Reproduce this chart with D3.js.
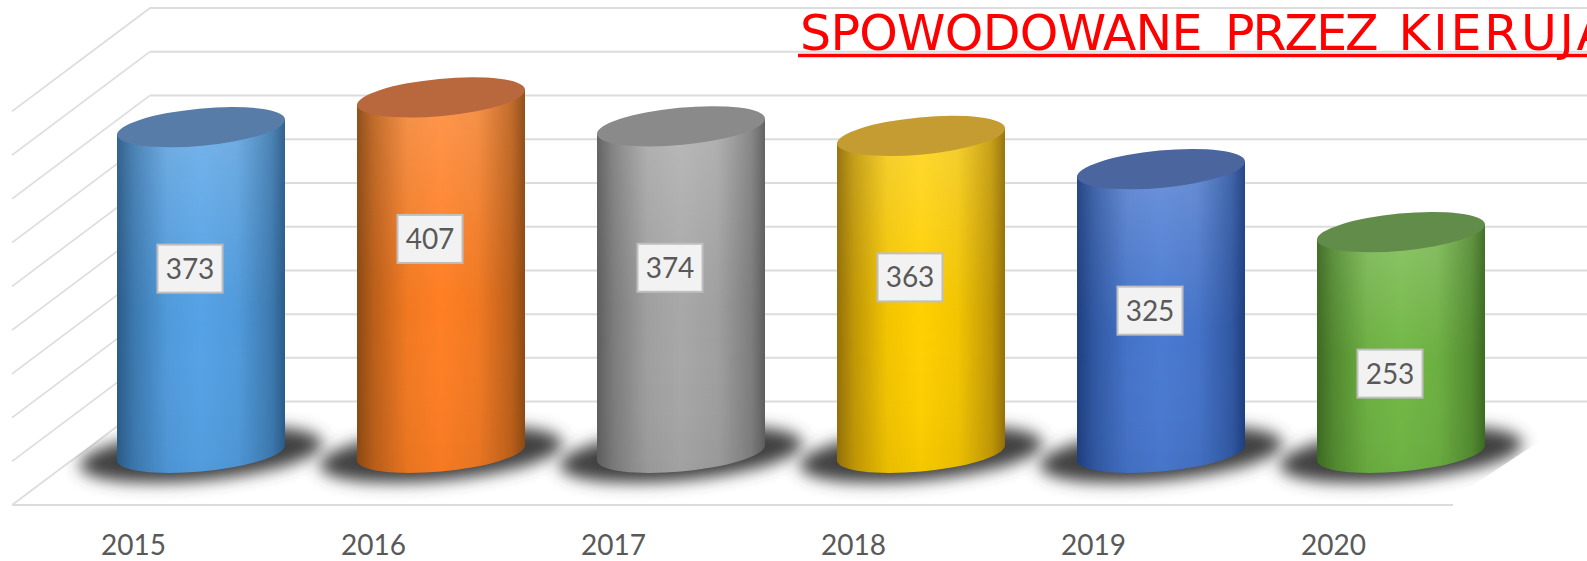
<!DOCTYPE html>
<html>
<meta charset="utf-8">
<script src="https://cdn.jsdelivr.net/npm/d3@7"></script>
<style type="text/css">
html, body {
  margin: 0;
  padding: 0;
  overflow: hidden;
  background: #fff;
}

.grid line {
  stroke: #dcdcdc;
  fill: none;
}

.axis text {
  font-family: Lato, sans-serif;
  font-size: 28px;
  fill: #595959;
}

.axis path,
.axis line {
  display: none;
}

.label text {
  font-family: Lato, sans-serif;
  font-size: 28px;
  fill: #595959;
  text-anchor: middle;
}

.title {
  font-family: 'DejaVu Sans', sans-serif;
  font-size: 49px;
  fill: #ff0000;
}
</style>
<body>
<script>

var categories = ["2015","2016","2017","2018","2019","2020"];
var values = [373,407,374,363,325,253];
var axisMax = 450;
var axisStep = 50;
var titleWords = ["SPOWODOWANE","PRZEZ","KIERUJĄCYCH"];

// colours for each cylinder: edge, middle, lid
var edgeColors = ["#2c5c88","#8c4a14","#5e5e5e","#94700a","#1f3f80","#3d6a22"];
var midColors = ["#55a2e6","#ff7f24","#a8a8a8","#ffd000","#4a7ad2","#72b845"];
var lidColors = ["#577ca8","#b8683c","#8a8a8a","#c49c32","#4b659e","#628c4a"];

var width = 1587, height = 561;

// depth of the 3d box
var depthX = 138, depthY = 103.4;
var wallLeft = 150, floorRight = 1453;
var wallBottom = 401.6, wallTop = 8;
// bars stand in the middle of the floor so they sit lower than the back wall
var barBase = 453.4;

// cylinder ellipse
var rx = 84.4, ry = 18.6, tilt = -5.4;
var sideX = 84, sideY = 7.6;

var xScale = d3.scalePoint().domain(categories).range([201, 1401]);
var yWall = d3.scaleLinear().domain([0, axisMax]).range([wallBottom, wallTop]);
var yBar = d3.scaleLinear().domain([0, axisMax]).range([barBase, barBase - (wallBottom - wallTop)]);

var svg = d3.select("body").append("svg")
    .attr("width", width)
    .attr("height", height)
    .style("display", "block");

var defs = svg.append("defs");

defs.append("filter").attr("id", "blur")
    .attr("x", "-20%").attr("y", "-60%").attr("width", "140%").attr("height", "220%")
    .append("feGaussianBlur").attr("stdDeviation", 8);

defs.append("clipPath").attr("id", "floorClip")
    .append("path")
    .attr("d", "M12,505 L150,401.6 L1600,401.6 L1443,505 Z");

categories.forEach(function(c, i) {
    var g = defs.append("linearGradient").attr("id", "side" + i)
        .attr("x1", 0).attr("x2", 1).attr("y1", 0).attr("y2", 0);
    var shade = d3.interpolateRgb(edgeColors[i], midColors[i]);
    [[0, 0], [0.1, 0.4], [0.3, 0.88], [0.5, 1], [0.72, 0.88], [0.92, 0.42], [1, 0]].forEach(function(s) {
        g.append("stop").attr("offset", s[0]).attr("stop-color", shade(s[1]));
    });
});

// lighter towards the top of the cylinder, mostly in the middle
var sheen = defs.append("linearGradient").attr("id", "sheen")
    .attr("x1", 0).attr("x2", 0).attr("y1", 0).attr("y2", 1);
sheen.append("stop").attr("offset", 0).attr("stop-color", "#fff").attr("stop-opacity", 0.2);
sheen.append("stop").attr("offset", 0.55).attr("stop-color", "#fff").attr("stop-opacity", 0);
sheen.append("stop").attr("offset", 1).attr("stop-color", "#000").attr("stop-opacity", 0.04);

var sheenEdge = defs.append("linearGradient").attr("id", "sheenEdge")
    .attr("x1", 0).attr("x2", 1).attr("y1", 0).attr("y2", 0);
[[0, "#333"], [0.3, "#fff"], [0.7, "#fff"], [1, "#333"]].forEach(function(s) {
    sheenEdge.append("stop").attr("offset", s[0]).attr("stop-color", s[1]);
});

defs.append("mask").attr("id", "sheenMask")
    .attr("maskContentUnits", "objectBoundingBox")
    .append("rect")
    .attr("width", 1).attr("height", 1)
    .style("fill", "url(#sheenEdge)");

// back wall lines
var ticks = d3.range(0, axisMax + axisStep, axisStep);
var grid = svg.append("g").attr("class", "grid");

grid.selectAll(".back").data(ticks).enter().append("line").attr("class", "back")
    .attr("x1", wallLeft)
    .attr("x2", width)
    .attr("y1", function(d) { return yWall(d); })
    .attr("y2", function(d) { return yWall(d); })
    .style("stroke-width", 2);

grid.selectAll(".side").data(ticks).enter().append("line").attr("class", "side")
    .attr("x1", wallLeft - depthX)
    .attr("x2", wallLeft)
    .attr("y1", function(d) { return yWall(d) + depthY; })
    .attr("y2", function(d) { return yWall(d); })
    .style("stroke-width", 1.6);

grid.append("line")
    .attr("x1", wallLeft - depthX)
    .attr("x2", floorRight)
    .attr("y1", yWall(0) + depthY)
    .attr("y2", yWall(0) + depthY)
    .style("stroke-width", 2);

// shadows on the floor
var shadows = svg.append("g").attr("clip-path", "url(#floorClip)");
shadows.selectAll("ellipse").data(categories).enter().append("ellipse")
    .attr("rx", 122).attr("ry", 26)
    .attr("transform", function(d) {
        return "translate(" + xScale(d) + "," + (barBase + 1) + ") rotate(" + tilt + ")";
    })
    .style("fill", "#404040")
    .attr("filter", "url(#blur)");

// title runs off the right side like the original
// each word is placed on its own since DejaVu is not the same width as the original font
var wordX = [800, 1225, 1398.5];
var wordSpacing = [-0.7, -2, 2.7];
var title = svg.append("text").attr("class", "title").attr("y", 50);
title.selectAll("tspan").data(titleWords).enter().append("tspan")
    .attr("x", function(d, i) { return wordX[i]; })
    .style("letter-spacing", function(d, i) { return wordSpacing[i] + "px"; })
    .text(function(d) { return d; });

svg.append("line")
    .attr("x1", 798).attr("x2", width)
    .attr("y1", 55.5).attr("y2", 55.5)
    .style("stroke", "#ff0000")
    .style("stroke-width", 3.5);

function bodyPath(d) {
    var cx = xScale(d.category), top = yBar(d.value);
    return "M" + (cx - sideX) + "," + (top + sideY)
        + " L" + (cx - sideX) + "," + (barBase + sideY)
        + " A" + rx + "," + ry + " " + tilt + " 0 0 " + (cx + sideX) + "," + (barBase - sideY)
        + " L" + (cx + sideX) + "," + (top - sideY)
        + " Z";
}

var rows = categories.map(function(c, i) { return {category: c, value: values[i], index: i}; });

var bars = svg.selectAll(".bar").data(rows).enter().append("g").attr("class", "bar");

bars.append("path")
    .attr("d", bodyPath)
    .style("fill", function(d) { return "url(#side" + d.index + ")"; });

bars.append("path")
    .attr("d", bodyPath)
    .style("fill", "url(#sheen)")
    .attr("mask", "url(#sheenMask)");

bars.append("ellipse")
    .attr("rx", rx)
    .attr("ry", ry)
    .attr("transform", function(d) {
        return "translate(" + xScale(d.category) + "," + yBar(d.value) + ") rotate(" + tilt + ")";
    })
    .style("fill", function(d) { return lidColors[d.index]; });

// value boxes sit a fixed distance under the lid
var labels = svg.selectAll(".label").data(rows).enter().append("g").attr("class", "label")
    .attr("transform", function(d) {
        return "translate(" + (xScale(d.category) - 11) + "," + (yBar(d.value) + 141.5) + ")";
    });

labels.append("rect")
    .attr("x", -32.5).attr("y", -24)
    .attr("width", 65).attr("height", 48)
    .style("fill", "#f2f2f2")
    .style("stroke", "#bfbfbf")
    .style("stroke-width", 2);

labels.append("text")
    .attr("y", 10)
    .text(function(d) { return d.value; });

// year labels are shifted left of the bars by the 3d depth
var xAxis = d3.axisBottom(xScale).tickSize(0).tickPadding(0);
svg.append("g").attr("class", "axis")
    .attr("transform", "translate(-68,535)")
    .call(xAxis);

</script>
</body>
</html>
